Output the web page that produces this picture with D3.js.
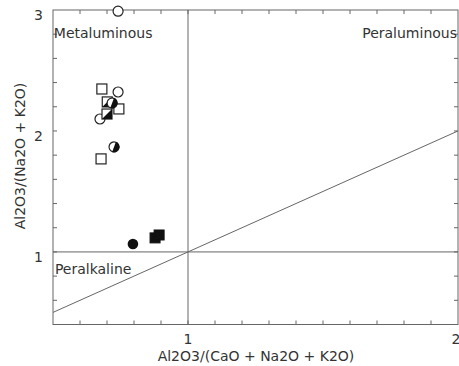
<!DOCTYPE html>
<html>
<head>
<meta charset="utf-8">
<script src="https://cdn.jsdelivr.net/npm/d3@7"></script>
<style>
  body { margin: 0; background: #fff; }
  svg { display: block; font-family: "DejaVu Sans", sans-serif; }
  .frame line, .frame rect { stroke: #666; fill: none; }
  .lbl { fill: #333; font-size: 14px; }
</style>
</head>
<body>
<div class="container"></div>
<script>
const xDomain = [0.5, 2];
const yDomain = [0.4, 3];
const xTickLabels = [1, 2];
const yTickLabels = [1, 2, 3];

const openCircle = [[0.741, 2.99], [0.741, 2.322], [0.674, 2.099]];
const openSquare = [[0.681, 2.347], [0.744, 2.182], [0.678, 1.769]];
const halfSquare = [[0.701, 2.24], [0.700, 2.14]];
const halfCircle = [[0.719, 2.231], [0.726, 1.868]];
const filledCircle = [[0.796, 1.066]];
const filledSquare = [[0.878, 1.116], [0.893, 1.14]];

const fieldLabels = [
  { text: "Metaluminous", x: 0.503, y: 2.77, anchor: "start" },
  { text: "Peraluminous", x: 2.0, y: 2.77, anchor: "end" },
  { text: "Peralkaline", x: 0.507, y: 0.815, anchor: "start" },
];

const width = 459, height = 366;
const margin = { top: 10, left: 53, right: 1, bottom: 42 };

const svg = d3.select(".container").append("svg")
  .attr("width", width).attr("height", height);

const x = d3.scaleLinear().domain(xDomain).range([margin.left, 458]);
const y = d3.scaleLinear().domain(yDomain).range([324.5, margin.top]);

const frame = svg.append("g").attr("class", "frame");
frame.append("rect")
  .attr("x", x(xDomain[0])).attr("y", y(yDomain[1]))
  .attr("width", x(xDomain[1]) - x(xDomain[0]))
  .attr("height", y(yDomain[0]) - y(yDomain[1]));

// minor ticks pointing inward on all sides
const xt = d3.range(0.6, 2.0, 0.1);
const yt = d3.range(0.6, 3.0, 0.2);
const tl = 4;
xt.forEach(v => {
  frame.append("line").attr("x1", x(v)).attr("x2", x(v))
    .attr("y1", y(yDomain[0])).attr("y2", y(yDomain[0]) - tl);
  frame.append("line").attr("x1", x(v)).attr("x2", x(v))
    .attr("y1", y(yDomain[1])).attr("y2", y(yDomain[1]) + tl);
});
yt.forEach(v => {
  frame.append("line").attr("y1", y(v)).attr("y2", y(v))
    .attr("x1", x(xDomain[0])).attr("x2", x(xDomain[0]) + tl);
  frame.append("line").attr("y1", y(v)).attr("y2", y(v))
    .attr("x1", x(xDomain[1])).attr("x2", x(xDomain[1]) - tl);
});

// field boundaries
frame.append("line").attr("x1", x(1)).attr("x2", x(1))
  .attr("y1", y(yDomain[0])).attr("y2", y(yDomain[1]));
frame.append("line").attr("x1", x(xDomain[0])).attr("x2", x(xDomain[1]))
  .attr("y1", y(1)).attr("y2", y(1));
frame.append("line").attr("x1", x(0.5)).attr("x2", x(2))
  .attr("y1", y(0.5)).attr("y2", y(2));

// tick labels
svg.selectAll(".xl").data(xTickLabels).join("text")
  .attr("class", "lbl").attr("text-anchor", "middle")
  .attr("x", d => x(d) + (d === 2 ? -2 : 0)).attr("y", 344).text(d => d);
svg.selectAll(".yl").data(yTickLabels).join("text")
  .attr("class", "lbl").attr("text-anchor", "end")
  .attr("x", 43).attr("y", d => y(d) + 10).text(d => d);

// axis titles
svg.append("text").attr("class", "lbl").attr("text-anchor", "middle")
  .attr("x", 256).attr("y", 361).text("Al2O3/(CaO + Na2O + K2O)");
svg.append("text").attr("class", "lbl").attr("text-anchor", "middle")
  .attr("transform", `translate(25,156) rotate(-90)`)
  .text("Al2O3/(Na2O + K2O)");

svg.selectAll(".fl").data(fieldLabels).join("text")
  .attr("class", "lbl").attr("text-anchor", d => d.anchor)
  .attr("x", d => x(d.x) + (d.anchor === "end" ? -1 : 0))
  .attr("y", d => y(d.y)).text(d => d.text);

// markers
const r = 5, s = 10;
const pts = svg.append("g");

pts.selectAll(".oc").data(openCircle).join("circle")
  .attr("cx", d => x(d[0])).attr("cy", d => y(d[1])).attr("r", r)
  .attr("fill", "#fff").attr("stroke", "#222").attr("stroke-width", 1.2);

pts.selectAll(".os").data(openSquare).join("rect")
  .attr("x", d => x(d[0]) - s / 2).attr("y", d => y(d[1]) - s / 2)
  .attr("width", s).attr("height", s)
  .attr("fill", "#fff").attr("stroke", "#222").attr("stroke-width", 1.2);

const hs = pts.selectAll(".hs").data(halfSquare).join("g")
  .attr("transform", d => `translate(${x(d[0])},${y(d[1])})`);
hs.append("rect").attr("x", -s / 2).attr("y", -s / 2)
  .attr("width", s).attr("height", s)
  .attr("fill", "#fff").attr("stroke", "#222").attr("stroke-width", 1.2);
hs.append("path").attr("d", `M${s / 2},${-s / 2}L${s / 2},${s / 2}L${-s / 2},${s / 2}Z`)
  .attr("fill", "#111");

const hc = pts.selectAll(".hc").data(halfCircle).join("g")
  .attr("transform", d => `translate(${x(d[0])},${y(d[1])}) rotate(20)`);
hc.append("circle").attr("r", r)
  .attr("fill", "#fff").attr("stroke", "#222").attr("stroke-width", 1.2);
hc.append("path").attr("d", d3.arc()({ innerRadius: 0, outerRadius: r + 0.4, startAngle: 0, endAngle: Math.PI }))
  .attr("fill", "#111");

pts.selectAll(".fc").data(filledCircle).join("circle")
  .attr("cx", d => x(d[0])).attr("cy", d => y(d[1])).attr("r", r + 0.3)
  .attr("fill", "#111");

pts.selectAll(".fs").data(filledSquare).join("rect")
  .attr("x", d => x(d[0]) - s / 2).attr("y", d => y(d[1]) - s / 2)
  .attr("width", s).attr("height", s)
  .attr("fill", "#111").attr("stroke", "#111");
</script>
</body>
</html>
